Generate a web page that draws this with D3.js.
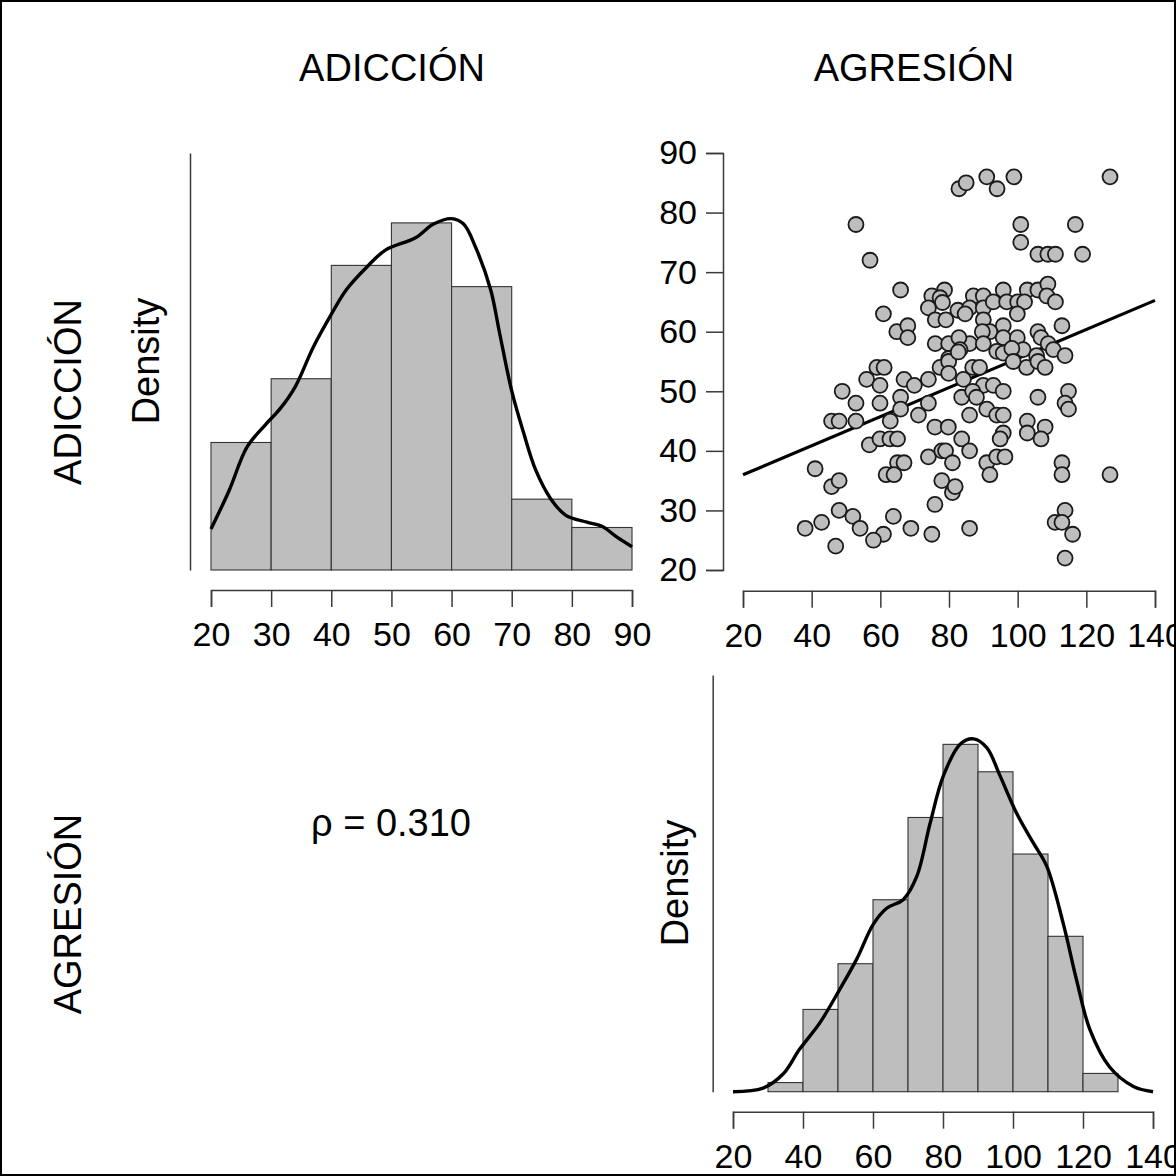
<!DOCTYPE html>
<html>
<head>
<meta charset="utf-8">
<script src="https://cdn.jsdelivr.net/npm/d3@7"></script>
<style>
  html, body { margin: 0; padding: 0; background: #fff; }
  svg text { font-family: "Liberation Sans", Arial, sans-serif; fill: #000; }
</style>
</head>
<body>
<div id="container"></div>
<script>
// variable names
const varNames = ['ADICCIÓN', 'AGRESIÓN'];
const rhoLabel = 'ρ = 0.310';

// ADICCIÓN histogram (bins of 10 from 20 to 90)
const adicBins = [20, 30, 40, 50, 60, 70, 80, 90];
const adicCounts = [18, 27, 43, 49, 40, 10, 6];
const adicTicks = [20, 30, 40, 50, 60, 70, 80, 90];

// ADICCIÓN density curve (x, density)
const adicDensX = [20, 23, 26, 29, 31.5, 34, 37, 40, 42.5, 46, 49, 54, 57, 60, 62, 64, 66.5, 68, 70, 72, 74, 76.5, 79, 82.5, 85, 87.5, 90];
const adicDensY = [0.0030, 0.0058, 0.0090, 0.0106, 0.0118, 0.0134, 0.0163, 0.0187, 0.0205, 0.0222, 0.0234, 0.0243, 0.0253, 0.0257, 0.0253, 0.0236, 0.0205, 0.0173, 0.0131, 0.0100, 0.0073, 0.0052, 0.0040, 0.0035, 0.0032, 0.0024, 0.0017];

// AGRESIÓN histogram (bins of 10 from 30 to 130)
const agreBins = [30, 40, 50, 60, 70, 80, 90, 100, 110, 120, 130];
const agreCounts = [1, 9, 14, 21, 30, 38, 35, 26, 17, 2];
const agreTicks = [20, 40, 60, 80, 100, 120, 140];

// AGRESIÓN density curve
const agreDensX = [20, 28.6, 34.3, 39, 44.8, 50.5, 55.3, 60.1, 63.9, 68.7, 72.5, 76.3, 80.1, 84.9, 88.7, 92.5, 96.3, 101, 105.8, 109.6, 114.4, 118.2, 122, 127.6, 134.4, 140];
const agreDensY = [0, 0.0002, 0.0010, 0.0024, 0.0039, 0.0058, 0.0075, 0.0095, 0.0104, 0.0109, 0.0122, 0.0152, 0.0179, 0.0197, 0.0200, 0.0195, 0.0179, 0.0158, 0.0141, 0.0128, 0.0095, 0.0063, 0.0035, 0.0014, 0.0003, 0];

// scatter: AGRESIÓN (x) vs ADICCIÓN (y)
const scatterAgre = [
  82.9, 85, 91, 94, 98.9, 126.9, 52.9, 100.9, 116.8, 57, 100.9, 105.9, 108.8, 111, 118.9,
  65.9, 75, 78.7, 77.4, 78.1, 74, 76, 79.1, 60.9, 64.8, 68, 68, 76, 79.9, 79.9, 82.6,
  95.8, 102.8, 105.9, 108.8, 108.5, 111, 112.9,
  87.1, 90, 86, 84.7, 90, 92.9, 96.8, 100, 102, 99.9, 90,
  95.8, 91.9, 89.7, 95.8, 99.9, 105.9, 106.8, 108.9, 110.4, 113.8, 86, 90, 82.9, 83.2, 93.9, 95.8, 101.6, 105.5, 98.3,
  48.9, 56, 59, 61.1, 59.9, 52.9, 59.9, 45.8, 48, 52.9, 62.9, 65.9, 65.9, 66.9, 69.9, 74, 71.1, 74, 77.4, 79.9, 79.9,
  56.8, 59.9, 62.8, 65, 75.9, 79.8, 74, 77.9, 79, 81, 65, 66.9, 61.7, 64, 41, 45.8, 48, 77.9, 81, 81.8, 75.9,
  48, 52, 54.1, 38.1, 42.9, 63.8, 60.9, 58, 68.9, 75, 47,
  82.7, 84.2, 86.9, 88.9, 90, 92.9, 95.8, 83.7, 86.9, 88, 91, 93.9, 95.8, 86, 95.8, 94.9, 83.7, 86, 91, 93.9, 96.3, 91.9,
  102.8, 102.8, 108, 106.8, 105.9, 114.8, 113.8, 114.8, 112.9, 112.9, 126.9, 113.8, 110.9, 112.9, 116, 113.8, 86,
  102.6, 105.9, 108, 98.7
];
const scatterAdic = [
  84, 85, 86, 84, 86, 86, 78, 78, 78, 72, 75, 73, 73, 73, 73,
  67, 66, 67, 65.7, 64.9, 64, 62, 62, 63, 60, 61, 59, 58, 58, 55.5, 63.6,
  67, 67, 67, 68, 66, 65, 61,
  66, 66, 64, 63, 64, 65, 65, 65, 65, 63, 62,
  61, 60, 60, 59, 59, 60, 59, 58, 57, 56, 58, 58, 59, 57, 56.7, 56.4, 57, 56, 57.2,
  50, 52, 54, 54, 51, 48, 48, 45, 45, 45, 45, 49, 47, 52, 51, 52, 46, 48, 54, 55, 53,
  41, 42, 42, 42, 44, 44, 39, 40, 40, 38, 38, 38, 36, 36, 37, 34, 35, 35, 33, 34, 31,
  30, 29, 27, 27, 28, 29, 26, 25, 27, 26, 24,
  56.6, 52, 54, 54, 51, 51, 50, 49, 50, 49, 47, 46, 46, 46, 43, 42, 42, 40, 38, 39, 39, 36,
  45, 43, 44, 42, 49, 50, 48, 47, 38, 36, 36, 30, 28, 28, 26, 22, 27,
  54, 55, 54, 55
];
const scatter = scatterAgre.map((x, i) => ({ x: x, y: scatterAdic[i] }));

// regression line ADICCIÓN = a + b * AGRESIÓN
const regIntercept = 31.1;
const regSlope = 0.244;

const adicTicksY = [20, 30, 40, 50, 60, 70, 80, 90];
const agreTicksX = [20, 40, 60, 80, 100, 120, 140];

// chart size
const width = 1176;
const height = 1176;
const tickFont = 34;
const labelFont = 38;
const barFill = '#bebebe';

const svg = d3.select('#container')
              .append('svg')
              .attr('width', width)
              .attr('height', height);

// frame
svg.append('rect')
    .attr('x', 1)
    .attr('y', 1)
    .attr('width', width - 2)
    .attr('height', height - 2)
    .style('fill', '#fff')
    .style('stroke', '#000')
    .style('stroke-width', 2);

// style an axis group like base R graphics
function styleAxis(g) {
    g.selectAll('path, line').style('stroke', '#3a3a3a').style('stroke-width', 1.5);
    g.selectAll('text').style('font-size', tickFont + 'px').style('fill', '#000');
    g.attr('font-family', null);
}

// ---------- top-left: ADICCIÓN histogram ----------
const xA = d3.scaleLinear().domain([20, 90]).range([211, 632]);
const yA = d3.scaleLinear().domain([0, 0.0305]).range([570, 153]);
const totalA = d3.sum(adicCounts);

svg.append('g').selectAll('rect')
    .data(adicCounts)
    .enter()
    .append('rect')
    .attr('x', (d, i) => xA(adicBins[i]))
    .attr('width', (d, i) => xA(adicBins[i + 1]) - xA(adicBins[i]))
    .attr('y', (d) => yA(d / (totalA * 10)))
    .attr('height', (d) => yA(0) - yA(d / (totalA * 10)))
    .style('fill', barFill)
    .style('stroke', '#333')
    .style('stroke-width', 1.1);

svg.append('path')
    .datum(adicDensX.map((x, i) => [x, adicDensY[i]]))
    .attr('d', d3.line().x((d) => xA(d[0])).y((d) => yA(d[1])).curve(d3.curveCatmullRom))
    .style('fill', 'none')
    .style('stroke', '#000')
    .style('stroke-width', 3.4);

svg.append('g')
    .attr('transform', 'translate(0, 590)')
    .call(d3.axisBottom(xA).tickValues(adicTicks).tickFormat(d3.format('d'))
            .tickSize(17).tickSizeOuter(17).tickPadding(15))
    .call(styleAxis);

svg.append('g')
    .attr('transform', 'translate(190, 0)')
    .call(d3.axisLeft(yA).tickValues([]).tickSizeOuter(0))
    .call(styleAxis);

svg.append('text')
    .attr('transform', 'translate(159, 361) rotate(-90)')
    .attr('text-anchor', 'middle')
    .style('font-size', labelFont + 'px')
    .text('Density');

// ---------- top-right: scatter ----------
const xB = d3.scaleLinear().domain([20, 140]).range([743, 1155]);
const yB = d3.scaleLinear().domain([20, 90]).range([570, 153]);

svg.append('line')
    .attr('x1', xB(20))
    .attr('y1', yB(regIntercept + regSlope * 20))
    .attr('x2', xB(140))
    .attr('y2', yB(regIntercept + regSlope * 140))
    .style('stroke', '#000')
    .style('stroke-width', 3.2);

svg.append('g').selectAll('circle')
    .data(scatter)
    .enter()
    .append('circle')
    .attr('cx', (d) => xB(d.x))
    .attr('cy', (d) => yB(d.y))
    .attr('r', 7.5)
    .style('fill', barFill)
    .style('stroke', '#1a1a1a')
    .style('stroke-width', 1.8);

svg.append('g')
    .attr('transform', 'translate(0, 590.7)')
    .call(d3.axisBottom(xB).tickValues(agreTicksX).tickFormat(d3.format('d'))
            .tickSize(17).tickSizeOuter(17).tickPadding(15))
    .call(styleAxis);

svg.append('g')
    .attr('transform', 'translate(723, 0)')
    .call(d3.axisLeft(yB).tickValues(adicTicksY).tickFormat(d3.format('d'))
            .tickSize(17).tickSizeOuter(17).tickPadding(9))
    .call(styleAxis);

// ---------- bottom-right: AGRESIÓN histogram ----------
const xD = d3.scaleLinear().domain([20, 140]).range([733, 1153]);
const yD = d3.scaleLinear().domain([0, 0.02362]).range([1091.7, 675]);
const totalD = d3.sum(agreCounts);

svg.append('g').selectAll('rect')
    .data(agreCounts)
    .enter()
    .append('rect')
    .attr('x', (d, i) => xD(agreBins[i]))
    .attr('width', (d, i) => xD(agreBins[i + 1]) - xD(agreBins[i]))
    .attr('y', (d) => yD(d / (totalD * 10)))
    .attr('height', (d) => yD(0) - yD(d / (totalD * 10)))
    .style('fill', barFill)
    .style('stroke', '#333')
    .style('stroke-width', 1.1);

svg.append('path')
    .datum(agreDensX.map((x, i) => [x, agreDensY[i]]))
    .attr('d', d3.line().x((d) => xD(d[0])).y((d) => yD(d[1])).curve(d3.curveCatmullRom))
    .style('fill', 'none')
    .style('stroke', '#000')
    .style('stroke-width', 3.4);

svg.append('g')
    .attr('transform', 'translate(0, 1111.7)')
    .call(d3.axisBottom(xD).tickValues(agreTicks).tickFormat(d3.format('d'))
            .tickSize(17).tickSizeOuter(17).tickPadding(15))
    .call(styleAxis);

svg.append('g')
    .attr('transform', 'translate(712.7, 0)')
    .call(d3.axisLeft(yD).tickValues([]).tickSizeOuter(0))
    .call(styleAxis);

svg.append('text')
    .attr('transform', 'translate(688, 883) rotate(-90)')
    .attr('text-anchor', 'middle')
    .style('font-size', labelFont + 'px')
    .text('Density');

// ---------- bottom-left: correlation ----------
svg.append('text')
    .attr('x', 391)
    .attr('y', 836)
    .attr('text-anchor', 'middle')
    .style('font-size', labelFont + 'px')
    .text(rhoLabel);

// ---------- variable labels ----------
svg.append('text')
    .attr('x', 392)
    .attr('y', 81)
    .attr('text-anchor', 'middle')
    .style('font-size', labelFont + 'px')
    .text(varNames[0]);

svg.append('text')
    .attr('x', 914)
    .attr('y', 81)
    .attr('text-anchor', 'middle')
    .style('font-size', labelFont + 'px')
    .text(varNames[1]);

svg.append('text')
    .attr('transform', 'translate(81, 392) rotate(-90)')
    .attr('text-anchor', 'middle')
    .style('font-size', labelFont + 'px')
    .text(varNames[0]);

svg.append('text')
    .attr('transform', 'translate(81, 914) rotate(-90)')
    .attr('text-anchor', 'middle')
    .style('font-size', labelFont + 'px')
    .text(varNames[1]);
</script>
</body>
</html>
